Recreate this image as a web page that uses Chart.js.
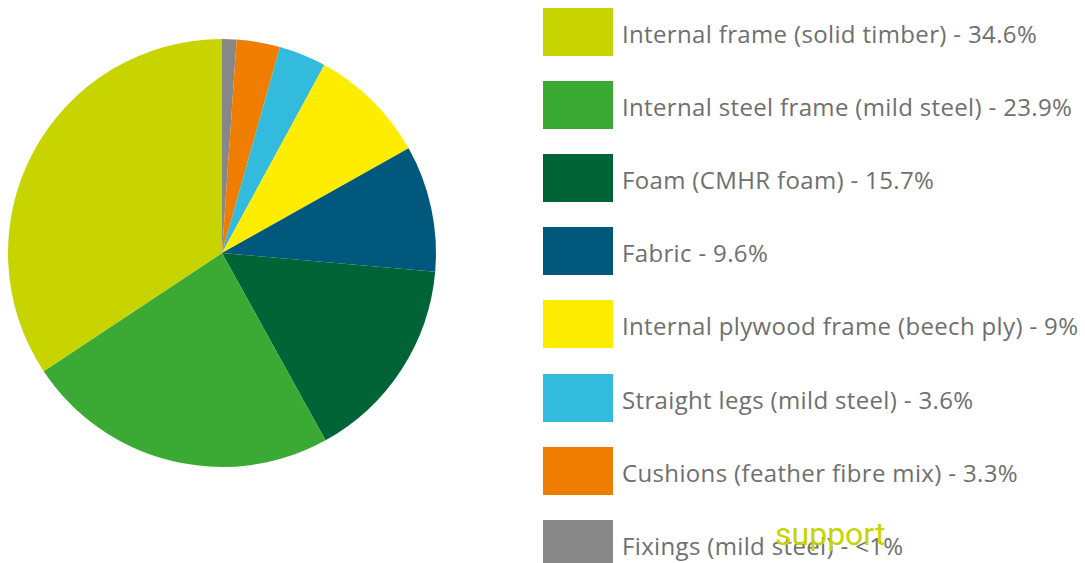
<!DOCTYPE html>
<html>
<head>
<meta charset="utf-8">
<script src="https://cdn.jsdelivr.net/npm/chart.js@4"></script>
<style>
  html, body { margin: 0; padding: 0; background: #fff; }
  body { width: 1085px; height: 563px; position: relative; overflow: hidden; font-family: "Open Sans", sans-serif; }
  #pieWrap { position: absolute; left: 0; top: 0; width: 444px; height: 506px; }
  #legend { position: absolute; left: 543px; top: 8px; }
  .item { position: absolute; left: 0; height: 48px; white-space: nowrap; }
  .box { position: absolute; left: 0; top: 0; width: 70px; height: 48px; }
  .txt { position: absolute; left: 79px; top: 2px; line-height: 48px; font-size: 24px; letter-spacing: 0.35px; color: #6f6f6f; }
  #stray { position: absolute; left: 775px; top: 514px; font-family: Roboto, sans-serif; font-size: 32px; line-height: 40px; color: #c8d400; }
</style>
</head>
<body>
<div id="pieWrap"><canvas id="pie" width="444" height="506"></canvas></div>
<div id="legend"></div>
<div id="stray">support</div>
<script>
// legend order (largest first)
const materials = [
  'Internal frame (solid timber)',
  'Internal steel frame (mild steel)',
  'Foam (CMHR foam)',
  'Fabric',
  'Internal plywood frame (beech ply)',
  'Straight legs (mild steel)',
  'Cushions (feather fibre mix)',
  'Fixings (mild steel)'
];
const shares = [34.6, 23.9, 15.7, 9.6, 9, 3.6, 3.3, 1.1];
const shareLabels = ['34.6%', '23.9%', '15.7%', '9.6%', '9%', '3.6%', '3.3%', '<1%'];
const colors = ['#c8d400', '#3aaa35', '#006437', '#00587c', '#ffed00', '#33bbdd', '#ef7d00', '#878787'];

// build the HTML legend
const legend = document.getElementById('legend');
materials.forEach(function (name, i) {
  const item = document.createElement('div');
  item.className = 'item';
  item.style.top = (i * 73.1) + 'px';
  const box = document.createElement('div');
  box.className = 'box';
  box.style.background = colors[i];
  const txt = document.createElement('div');
  txt.className = 'txt';
  txt.textContent = name + ' - ' + shareLabels[i];
  item.appendChild(box);
  item.appendChild(txt);
  legend.appendChild(item);
});

// pie runs clockwise from the top starting with the smallest slice
const pieData = {
  labels: materials.slice().reverse(),
  datasets: [{
    data: shares.slice().reverse(),
    backgroundColor: colors.slice().reverse(),
    borderWidth: 0
  }]
};

new Chart(document.getElementById('pie'), {
  type: 'pie',
  data: pieData,
  options: {
    responsive: false,
    animation: false,
    layout: { padding: { left: 8, right: 8, top: 39, bottom: 39 } },
    plugins: {
      legend: { display: false },
      tooltip: { enabled: false }
    }
  }
});
</script>
</body>
</html>
